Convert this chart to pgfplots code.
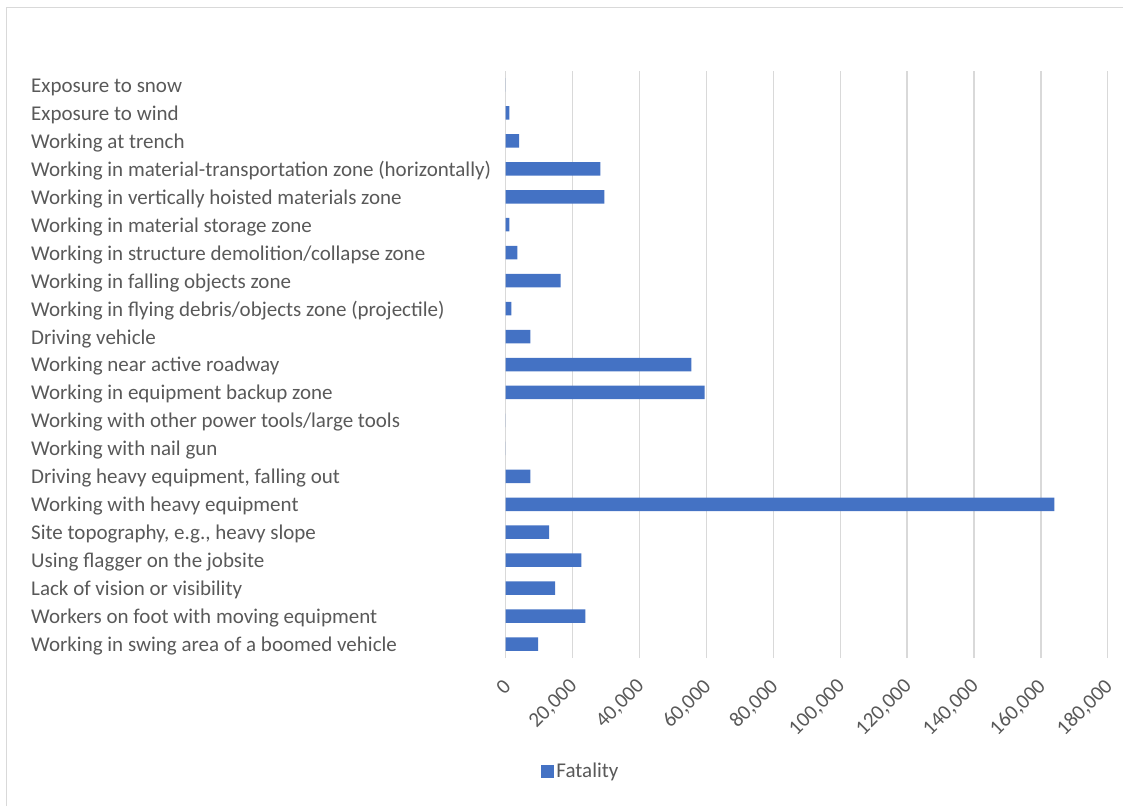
\documentclass[border=0pt]{standalone}
\usepackage{fontspec}
\setmainfont{Carlito}
\usepackage{pgfplots}
\pgfplotsset{compat=1.18}
\definecolor{barblue}{HTML}{4472C4}
\definecolor{txt}{HTML}{595959}
\definecolor{grd}{HTML}{D9D9D9}
\begin{document}
\begin{tikzpicture}[x=1pt,y=1pt]
\useasboundingbox (0,0) rectangle (1123,-806);
\draw[grd, line width=1.5pt] (6.5,-806) -- (6.5,-7.5) -- (1123,-7.5);
\begin{axis}[
  at={(505.7pt,-658pt)}, anchor=south west,
  scale only axis, width=602.1pt, height=587pt,
  xmin=0, xmax=180000, ymin=-0.5, ymax=20.5,
  xtick={0,20000,...,180000},
  ytick={0,...,20},
  yticklabels={
    Working in swing area of a boomed vehicle,
    Workers on foot with moving equipment,
    Lack of vision or visibility,
    Using flagger on the jobsite,
    {Site topography, e.g., heavy slope},
    Working with heavy equipment,
    {Driving heavy equipment, falling out},
    Working with nail gun,
    Working with other power tools/large tools,
    Working in equipment backup zone,
    Working near active roadway,
    Driving vehicle,
    Working in flying debris/objects zone (projectile),
    Working in falling objects zone,
    Working in structure demolition/collapse zone,
    Working in material storage zone,
    Working in vertically hoisted materials zone,
    Working in material-transportation zone (horizontally),
    Working at trench,
    Exposure to wind,
    Exposure to snow},
  scaled x ticks=false,
  /pgf/number format/.cd, fixed, precision=0, 1000 sep={,}, assume math mode=true,
  /pgfplots/.cd,
  xmajorgrids, major grid style={grd, line width=1.3pt},
  axis line style={draw=none},
  major tick style={draw=none},
  yticklabel style={font=\fontsize{21}{24}\selectfont, text=txt, anchor=west, inner sep=0pt, xshift=-474.7pt, yshift=-2pt},
  xticklabel style={font=\fontsize{21}{24}\selectfont, text=txt, xshift=4pt, yshift=-23pt, rotate=45, anchor=east},
  legend style={at={(0.125,-0.1925)}, anchor=center, draw=none, font=\fontsize{21}{24}\selectfont, text=txt},
  legend image code/.code={\fill[barblue] (0pt,-6.5pt) rectangle (13pt,6.5pt);},
]
\addplot[xbar, bar width=13.5pt, fill=barblue, draw=none] coordinates {
  (9660,0) (23800,1) (14750,2) (22600,3) (13000,4) (164000,5) (7360,6)
  (0,7) (0,8) (59500,9) (55500,10) (7360,11) (1700,12) (16450,13)
  (3500,14) (1100,15) (29500,16) (28300,17) (4000,18) (1100,19) (0,20)
};
\addlegendentry{Fatality}
\end{axis}
\end{tikzpicture}
\end{document}
